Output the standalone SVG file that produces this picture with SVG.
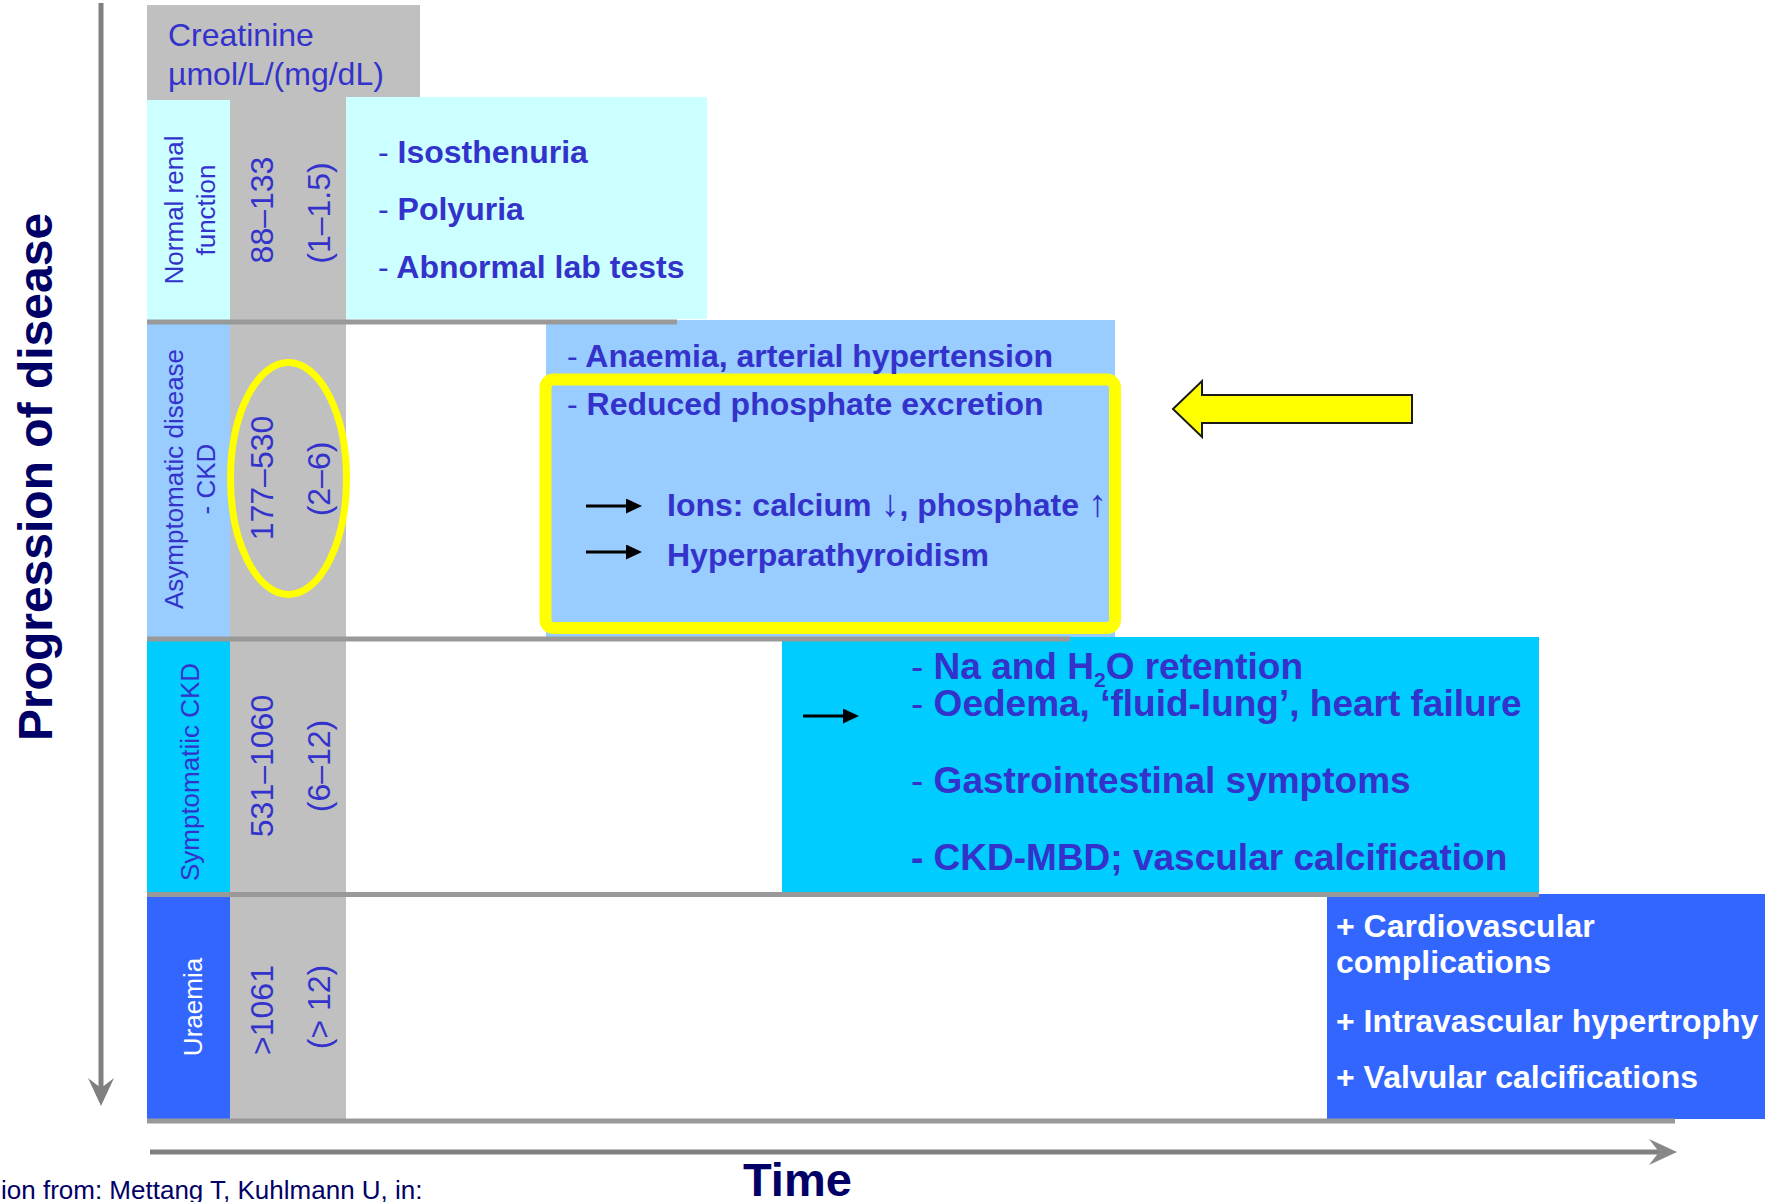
<svg xmlns="http://www.w3.org/2000/svg" width="1765" height="1202" viewBox="0 0 1765 1202">
<defs>
<style>
text { font-family: "Liberation Sans", Arial, sans-serif; }
.lab { font-size: 26px; fill: #3333CC; }
.labw { font-size: 26px; fill: #FFFFFF; }
.num { font-size: 32px; fill: #3333CC; }
.hdr { font-size: 32px; fill: #3333CC; }
.b32 { font-size: 32px; font-weight: bold; fill: #3333CC; }
.b37 { font-size: 37px; font-weight: bold; fill: #3333CC; }
.w32 { font-size: 32px; font-weight: bold; fill: #FFFFFF; }
.dash { font-weight: normal; }
.sym { font-weight: normal; font-size: 38px; }
.navy { fill: #000066; }
.sep { stroke: #999999; stroke-width: 5; }
.ax { stroke: #808080; stroke-width: 5; fill: none; }
.arr { stroke: #000000; stroke-width: 3; fill: none; marker-end: url(#ah); }
.gray { fill: #C0C0C0; }
</style>
<marker id="ah" markerUnits="userSpaceOnUse" markerWidth="16" markerHeight="15" refX="10" refY="7.5" orient="auto">
<path d="M0,0 L16,7.5 L0,15 Z" fill="#000000"/>
</marker>
</defs>
<rect x="0" y="0" width="1765" height="1202" fill="#FFFFFF"/>

<g id="creatinine-column">
<rect class="gray" x="147" y="5" width="273" height="95"/>
<rect class="gray" x="230" y="100" width="116" height="1020"/>
<text class="hdr" x="168" y="46">Creatinine</text>
<text class="hdr" x="168" y="85">µmol/L/(mg/dL)</text>
</g>

<g id="row-normal">
<rect x="147" y="100" width="83" height="220" fill="#CCFFFF"/>
<rect x="346" y="97" width="361" height="222" fill="#CCFFFF"/>
</g>
<g id="row-asymptomatic">
<rect x="147" y="324" width="83" height="314" fill="#99CCFF"/>
<rect x="546" y="320" width="569" height="318" fill="#99CCFF"/>
</g>
<g id="row-symptomatic">
<rect x="147" y="640" width="83" height="253" fill="#00CCFF"/>
<rect x="782" y="637" width="757" height="256" fill="#00CCFF"/>
</g>
<g id="row-uraemia">
<rect x="147" y="896" width="83" height="224" fill="#3366FF"/>
<rect x="1327" y="894" width="438" height="225" fill="#3366FF"/>
</g>

<g id="separators">
<line class="sep" x1="147" y1="322" x2="677" y2="322"/>
<line class="sep" x1="147" y1="639" x2="1070" y2="639"/>
<line class="sep" x1="147" y1="894.5" x2="1539" y2="894.5"/>
<line class="sep" x1="147" y1="1121" x2="1675" y2="1121"/>
</g>

<g id="highlights">
<rect x="545.5" y="379.5" width="569.5" height="248.5" rx="8" ry="8" fill="none" stroke="#FFFF00" stroke-width="12"/>
<ellipse cx="288.5" cy="478.5" rx="58" ry="116" fill="none" stroke="#FFFF00" stroke-width="7"/>
<path d="M1173,409 L1202,381 L1202,395 L1412,395 L1412,423 L1202,423 L1202,437 Z" fill="#FFFF00" stroke="#1A1A1A" stroke-width="2"/>
</g>

<g id="labels-normal">
<text class="lab" text-anchor="middle" transform="translate(183,210) rotate(-90)">Normal renal</text>
<text class="lab" text-anchor="middle" transform="translate(215,210) rotate(-90)">function</text>
<text class="num" text-anchor="middle" transform="translate(273,210) rotate(-90)">88–133</text>
<text class="num" text-anchor="middle" transform="translate(330,213) rotate(-90)">(1–1.5)</text>
<text class="b32" x="378" y="163"><tspan class="dash">-</tspan> Isosthenuria</text>
<text class="b32" x="378" y="220"><tspan class="dash">-</tspan> Polyuria</text>
<text class="b32" x="378" y="278"><tspan class="dash">-</tspan> Abnormal lab tests</text>
</g>

<g id="labels-asymptomatic">
<text class="lab" text-anchor="middle" transform="translate(183,479) rotate(-90)">Asymptomatic disease</text>
<text class="lab" text-anchor="middle" transform="translate(215,479) rotate(-90)">- CKD</text>
<text class="num" text-anchor="middle" transform="translate(273,478) rotate(-90)">177–530</text>
<text class="num" text-anchor="middle" transform="translate(330,479) rotate(-90)">(2–6)</text>
<text class="b32" x="567" y="367"><tspan class="dash">-</tspan> Anaemia, arterial hypertension</text>
<text class="b32" x="567" y="415"><tspan class="dash">-</tspan> Reduced phosphate excretion</text>
<text class="b32" x="667" y="516">Ions: calcium <tspan class="sym">↓</tspan>, phosphate <tspan class="sym">↑</tspan></text>
<text class="b32" x="667" y="566">Hyperparathyroidism</text>
</g>

<g id="labels-symptomatic">
<text class="lab" text-anchor="middle" transform="translate(199,772) rotate(-90)">Symptomatiic CKD</text>
<text class="num" text-anchor="middle" transform="translate(273,766) rotate(-90)">531–1060</text>
<text class="num" text-anchor="middle" transform="translate(330,766) rotate(-90)">(6–12)</text>
<text class="b37" x="911" y="679"><tspan class="dash">-</tspan> Na and H<tspan font-size="21" dy="8">2</tspan><tspan dy="-8">O retention</tspan></text>
<text class="b37" x="911" y="716"><tspan class="dash">-</tspan> Oedema, ‘fluid-lung’, heart failure</text>
<text class="b37" x="911" y="793"><tspan class="dash">-</tspan> Gastrointestinal symptoms</text>
<text class="b37" x="911" y="870">- CKD-MBD; vascular calcification</text>
</g>

<g id="labels-uraemia">
<text class="labw" text-anchor="middle" transform="translate(202,1007) rotate(-90)">Uraemia</text>
<text class="num" text-anchor="middle" transform="translate(273,1010) rotate(-90)">&gt;1061</text>
<text class="num" text-anchor="middle" transform="translate(330,1007) rotate(-90)">(&gt; 12)</text>
<text class="w32" x="1336" y="937">+ Cardiovascular</text>
<text class="w32" x="1336" y="973">complications</text>
<text class="w32" x="1336" y="1032">+ Intravascular hypertrophy</text>
<text class="w32" x="1336" y="1088">+ Valvular calcifications</text>
</g>

<g id="connectors">
<line class="arr" x1="586" y1="506" x2="636" y2="506"/>
<line class="arr" x1="586" y1="552" x2="636" y2="552"/>
<line class="arr" x1="803" y1="716" x2="853" y2="716"/>
</g>

<g id="axes">
<line class="ax" x1="101" y1="3" x2="101" y2="1088"/>
<path d="M101,1106 L88,1078 L101,1088 L114,1078 Z" fill="#808080"/>
<line class="ax" x1="150" y1="1152" x2="1662" y2="1152" stroke="#888888"/>
<path d="M1677,1152 L1649,1139 L1659,1152 L1649,1165 Z" fill="#888888"/>
<text class="navy" font-size="48" font-weight="bold" text-anchor="middle" transform="translate(52,477) rotate(-90)">Progression of disease</text>
<text class="navy" x="743" y="1196" font-size="47" font-weight="bold">Time</text>
<text class="navy" x="1" y="1199" font-size="26">ion from: Mettang T, Kuhlmann U, in:</text>
</g>
</svg>
